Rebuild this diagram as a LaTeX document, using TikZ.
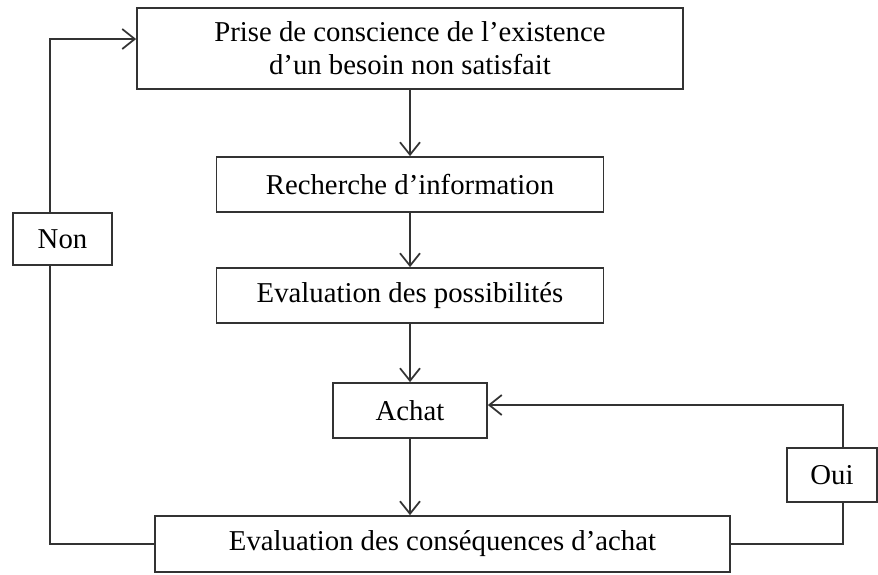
\documentclass[tikz,border=0pt]{standalone}
\usepackage{fontspec}
\setmainfont{Liberation Serif}
\usetikzlibrary{arrows.meta}
\begin{document}
\begin{tikzpicture}[x=0.4pt, y=-0.4pt, >={Straight Barb[length=5pt,width=8pt]},
  line width=0.7pt, color=black!80,
  stepbox/.style={draw, rectangle, inner sep=0pt, align=center, text=black,
    font=\fontsize{11.5}{13.2}\selectfont}]
\useasboundingbox (0,0) rectangle (878,574);
\node[stepbox, minimum width=218.4pt, minimum height=32.4pt] (prise) at (410,48.5) {Prise de conscience de l'existence\\d'un besoin non satisfait};
\node[stepbox, minimum width=154.8pt, minimum height=22pt] (rech) at (410,184.5) {Recherche d'information};
\node[stepbox, minimum width=154.8pt, minimum height=22pt] (possib) at (410,295.5) {Evaluation des possibilités};
\node[stepbox, minimum width=61.6pt, minimum height=22pt] (achat) at (410,410.5) {Achat};
\node[stepbox, minimum width=230pt, minimum height=22.4pt] (conseq) at (442.5,544) {Evaluation des conséquences d'achat};
\coordinate (ltop) at (50,39);
\coordinate (rtop) at (843,405);

\draw[->] (prise) -- (rech);
\draw[->] (rech) -- (possib);
\draw[->] (possib) -- (achat);
\draw[->] (achat) -- (achat |- conseq.north);
\draw[->] (conseq.west) -| (ltop) -- (ltop -| prise.west);
\draw[->] (conseq.east) -| (rtop) -- (rtop -| achat.east);

\node[stepbox, fill=white, minimum width=39.6pt, minimum height=20.8pt] (non) at (62.5,239) {Non};
\node[stepbox, fill=white, minimum width=36pt, minimum height=21.6pt] (oui) at (832,475) {Oui};
\end{tikzpicture}
\end{document}
